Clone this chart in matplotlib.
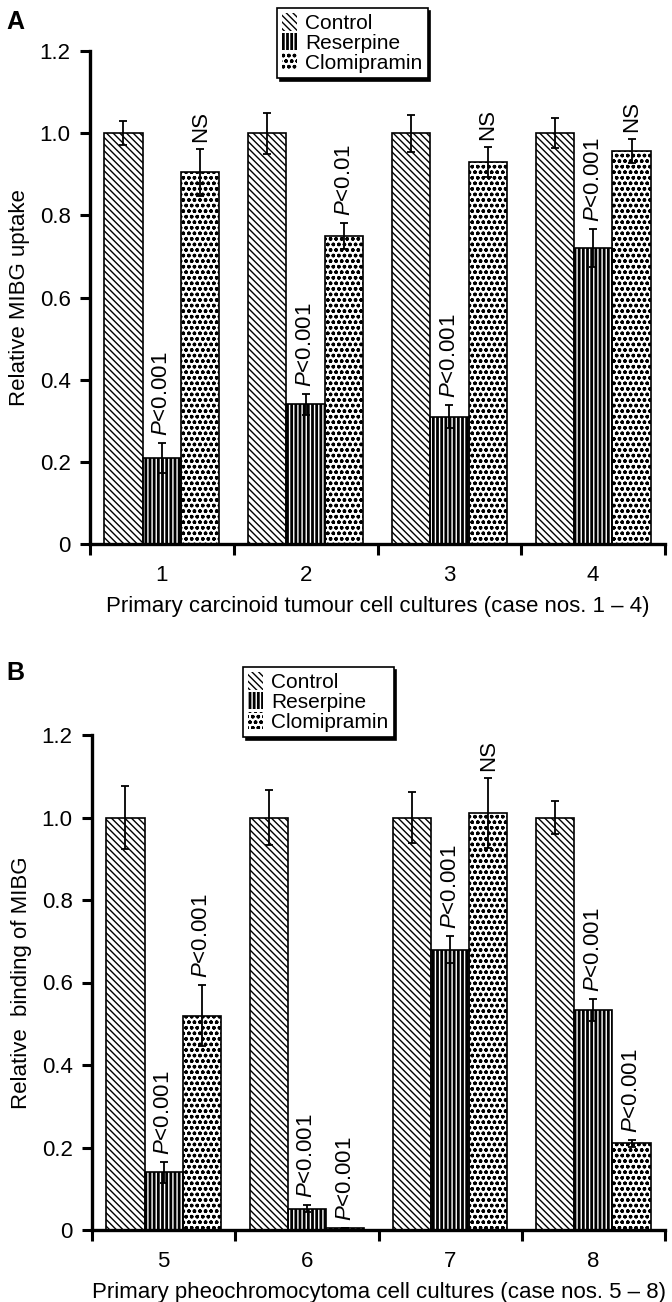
import matplotlib
matplotlib.use("Agg")
from matplotlib import pyplot as plt
from matplotlib.patches import Patch
import numpy as np

# panel A: carcinoid tumour cultures
cases_a = ['1', '2', '3', '4']
control_a = [1.0, 1.0, 1.0, 1.0]
control_a_err = [0.03, 0.05, 0.045, 0.037]
reserpine_a = [0.21, 0.34, 0.31, 0.72]
reserpine_a_err = [0.036, 0.025, 0.028, 0.046]
clomi_a = [0.905, 0.75, 0.93, 0.957]
clomi_a_err = [0.057, 0.032, 0.037, 0.03]
reserpine_a_sig = ['P<0.001', 'P<0.001', 'P<0.001', 'P<0.001']
clomi_a_sig = ['NS', 'P<0.01', 'NS', 'NS']

# panel B: pheochromocytoma cultures
cases_b = ['5', '6', '7', '8']
control_b = [1.0, 1.0, 1.0, 1.0]
control_b_err = [0.077, 0.067, 0.063, 0.04]
reserpine_b = [0.14, 0.052, 0.68, 0.533]
reserpine_b_err = [0.025, 0.008, 0.032, 0.027]
clomi_b = [0.52, 0.005, 1.01, 0.21]
clomi_b_err = [0.075, 0.0, 0.085, 0.008]
reserpine_b_sig = ['P<0.001', 'P<0.001', 'P<0.001', 'P<0.001']
clomi_b_sig = ['P<0.001', 'P<0.001', 'NS', 'P<0.001']

series_names = ['Control', 'Reserpine', 'Clomipramin']
yticks = [0, 0.2, 0.4, 0.6, 0.8, 1.0, 1.2]
ytick_labels = ['0', '0.2', '0.4', '0.6', '0.8', '1.0', '1.2']

plt.rcParams['font.family'] = ['Liberation Sans', 'DejaVu Sans']
plt.rcParams['mathtext.fontset'] = 'custom'
plt.rcParams['mathtext.it'] = 'Liberation Sans:italic'
plt.rcParams['mathtext.rm'] = 'Liberation Sans'
plt.rcParams['hatch.linewidth'] = 1.0

# fill style per series: face colour, hatch colour, hatch
STYLES = [('white', 'black', '\\\\\\\\\\'),
          ('black', 'white', '||||'),
          ('white', 'black', 'ooo')]
W = 0.267
FS = 16


def sig_text(s):
    if s.startswith('P'):
        return r'$P$' + s[1:]
    return s


def draw_panel(ax, cases, vals, errs, sigs, xlabel, ylabel):
    x = np.arange(len(cases))
    offsets = [-W, 0, W]
    for k in range(3):
        face, hcol, hatch = STYLES[k]
        ax.bar(x + offsets[k], vals[k], W, color=face, edgecolor=hcol,
               hatch=hatch, linewidth=0, zorder=2)
        # outline on top of the hatched fill
        ax.bar(x + offsets[k], vals[k], W, fill=False, edgecolor='black',
               linewidth=1.2, zorder=2.5)
        ax.errorbar(x + offsets[k], vals[k], yerr=errs[k], fmt='none', ecolor='black',
                    elinewidth=1.3, capsize=3, capthick=1.3, zorder=3)
    # significance labels above reserpine and clomipramin bars
    for k in (1, 2):
        for i in range(len(cases)):
            top = vals[k][i] + errs[k][i]
            ax.annotate(sig_text(sigs[k - 1][i]), xy=(x[i] + offsets[k], top),
                        xytext=(0, 5), textcoords='offset points', rotation=90,
                        ha='center', va='bottom', fontsize=FS)

    ax.set_xlim(-0.5, len(cases) - 0.5)
    ax.set_ylim(0, 1.2)
    for side in ('top', 'right'):
        ax.spines[side].set_visible(False)
    for side in ('left', 'bottom'):
        ax.spines[side].set_linewidth(2.4)
    ax.set_yticks(yticks)
    ax.set_yticklabels(ytick_labels, fontsize=FS)
    ax.tick_params(axis='y', length=7, width=2.2, pad=7)
    ax.set_xticks(x)
    ax.set_xticklabels(cases, fontsize=FS)
    ax.set_xticks(np.arange(len(cases) + 1) - 0.5, minor=True)
    ax.tick_params(axis='x', which='major', length=0, pad=15)
    ax.tick_params(axis='x', which='minor', length=8, width=2.2)
    ax.set_xlabel(xlabel, fontsize=FS, labelpad=7)
    ax.set_ylabel(ylabel, fontsize=FS)
    ax.yaxis.set_label_coords(-0.105, 0.5)


def add_legend(ax, fig, x0, y0):
    handles = [Patch(facecolor=f, edgecolor=c, hatch=h, linewidth=0) for f, c, h in STYLES]
    leg = ax.legend(handles, series_names, loc='upper left', bbox_to_anchor=(x0, y0),
                    bbox_transform=fig.transFigure, fontsize=15, fancybox=False,
                    shadow={'color': 'black', 'alpha': 1}, handlelength=0.7, handleheight=0.9,
                    handletextpad=0.4, labelspacing=0.0, borderpad=0.25,
                    borderaxespad=0, framealpha=1)
    leg.get_frame().set_edgecolor('black')
    leg.get_frame().set_linewidth(1.2)


fig = plt.figure(figsize=(6.72, 13.02), dpi=100)

ax_a = fig.add_axes([90 / 672, 1 - 544 / 1302, 575 / 672, 493 / 1302])
draw_panel(ax_a, cases_a, [control_a, reserpine_a, clomi_a],
           [control_a_err, reserpine_a_err, clomi_a_err],
           [reserpine_a_sig, clomi_a_sig],
           'Primary carcinoid tumour cell cultures (case nos. 1 \u2013 4)',
           'Relative MIBG uptake')
add_legend(ax_a, fig, 277 / 672, 1 - 8 / 1302)

ax_b = fig.add_axes([92 / 672, 1 - 1230 / 1302, 573 / 672, 495 / 1302])
draw_panel(ax_b, cases_b, [control_b, reserpine_b, clomi_b],
           [control_b_err, reserpine_b_err, clomi_b_err],
           [reserpine_b_sig, clomi_b_sig],
           'Primary pheochromocytoma cell cultures (case nos. 5 \u2013 8)',
           'Relative  binding of MIBG')
add_legend(ax_b, fig, 243 / 672, 1 - 667 / 1302)

fig.text(6 / 672, 1 - 22 / 1302, 'A', fontsize=18, fontweight='bold', va='center')
fig.text(6 / 672, 1 - 673 / 1302, 'B', fontsize=18, fontweight='bold', va='center')

fig.savefig('out.png', dpi=100)
